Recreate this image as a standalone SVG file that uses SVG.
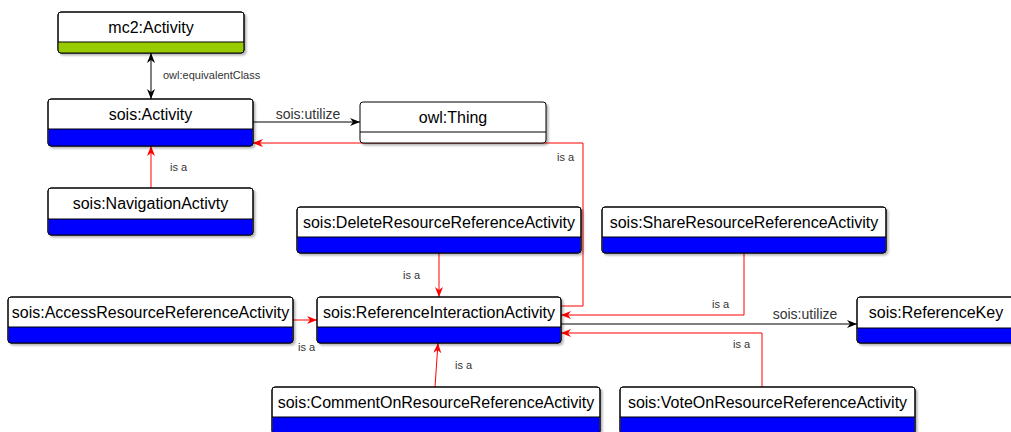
<svg xmlns="http://www.w3.org/2000/svg" width="1011" height="432" viewBox="0 0 1011 432">
<style>
.box{fill:#fff;stroke:#000;stroke-width:1}
.hdr{fill:#fff;stroke:none}
.blue{fill:#0000ff}
.green{fill:#99cc00}
.div{stroke:#000;stroke-width:1}
.nt{font-family:"Liberation Sans",Arial,sans-serif;font-size:16px;fill:#000;text-anchor:middle}
.el{font-family:"Liberation Sans",Arial,sans-serif;font-size:11px;fill:#333}
.el14{font-family:"Liberation Sans",Arial,sans-serif;font-size:14px;fill:#333}
.blk{fill:none;stroke:#000;stroke-width:1}
.red{fill:none;stroke:#ff0000;stroke-width:1}
</style>
<defs>
<filter id="sh" x="-5%" y="-10%" width="115%" height="130%">
<feDropShadow dx="2" dy="2" stdDeviation="1.2" flood-color="#000" flood-opacity="0.3"/>
</filter>
<marker id="ab" markerUnits="userSpaceOnUse" markerWidth="12" markerHeight="10" refX="10" refY="4" orient="auto-start-reverse" viewBox="0 0 12 10">
<path d="M0,0 L10,4 L0,8 L3,4 Z" fill="#000"/>
</marker>
<marker id="ar" markerUnits="userSpaceOnUse" markerWidth="12" markerHeight="10" refX="10" refY="4" orient="auto" viewBox="0 0 12 10">
<path d="M0,0 L10,4 L0,8 L3,4 Z" fill="#ff0000"/>
</marker>
</defs>

<g id="connectors">
<path class="blk" d="M151,53 V99" marker-start="url(#ab)" marker-end="url(#ab)"/>
<path class="blk" d="M253,122 H360" marker-end="url(#ab)"/>
<path class="red" d="M561,306 H583 V143 H253" marker-end="url(#ar)"/>
<path class="red" d="M151,188 V146" marker-end="url(#ar)"/>
<path class="red" d="M439,253 V297" marker-end="url(#ar)"/>
<path class="red" d="M293,320 H317" marker-end="url(#ar)"/>
<path class="red" d="M435,387 L438,343" marker-end="url(#ar)"/>
<path class="red" d="M744,253 V315 H561" marker-end="url(#ar)"/>
<path class="blk" d="M561,324 H857" marker-end="url(#ab)"/>
<path class="red" d="M762,387 V333 H561" marker-end="url(#ar)"/>
<text class="el" x="163" y="79">owl:equivalentClass</text>
<text class="el14" x="308" y="119" text-anchor="middle">sois:utilize</text>
<text class="el" x="557" y="161">is a</text>
<text class="el" x="170" y="171">is a</text>
<text class="el" x="403" y="279">is a</text>
<text class="el" x="298" y="351">is a</text>
<text class="el" x="455" y="369">is a</text>
<text class="el" x="712" y="308">is a</text>
<text class="el" x="733" y="348">is a</text>
<text class="el14" x="805" y="319" text-anchor="middle">sois:utilize</text>
</g>

<g id="mc2-activity">
<rect class="box" x="58" y="12" width="186" height="41" rx="3" filter="url(#sh)"/>
<path class="green" d="M58.5,42 H243.5 V50 a3,3 0 0 1 -3,3 H61.5 a3,3 0 0 1 -3,-3 Z"/>
<line class="div" x1="58" y1="42" x2="244" y2="42"/>
<rect x="58" y="12" width="186" height="41" rx="3" fill="none" stroke="#000"/>
<text class="nt" x="151" y="33">mc2:Activity</text>
</g>

<g id="sois-activity">
<rect class="box" x="48" y="99" width="205" height="47" rx="3" filter="url(#sh)"/>
<path class="blue" d="M48.5,129 H252.5 V143 a3,3 0 0 1 -3,3 H51.5 a3,3 0 0 1 -3,-3 Z"/>
<line class="div" x1="48" y1="129" x2="253" y2="129"/>
<rect x="48" y="99" width="205" height="47" rx="3" fill="none" stroke="#000"/>
<text class="nt" x="150.5" y="120">sois:Activity</text>
</g>

<g id="owl-thing">
<rect class="box" x="360" y="102" width="186" height="41" rx="3" filter="url(#sh)"/>
<line class="div" x1="360" y1="132" x2="546" y2="132"/>
<text class="nt" x="453" y="123">owl:Thing</text>
</g>

<g id="sois-navigation">
<rect class="box" x="48" y="188" width="205" height="47" rx="3" filter="url(#sh)"/>
<path class="blue" d="M48.5,219 H252.5 V232 a3,3 0 0 1 -3,3 H51.5 a3,3 0 0 1 -3,-3 Z"/>
<line class="div" x1="48" y1="219" x2="253" y2="219"/>
<rect x="48" y="188" width="205" height="47" rx="3" fill="none" stroke="#000"/>
<text class="nt" x="150.5" y="209">sois:NavigationActivty</text>
</g>

<g id="sois-delete">
<rect class="box" x="297" y="207" width="284" height="46" rx="3" filter="url(#sh)"/>
<path class="blue" d="M297.5,237 H580.5 V250 a3,3 0 0 1 -3,3 H300.5 a3,3 0 0 1 -3,-3 Z"/>
<line class="div" x1="297" y1="237" x2="581" y2="237"/>
<rect x="297" y="207" width="284" height="46" rx="3" fill="none" stroke="#000"/>
<text class="nt" x="439" y="228">sois:DeleteResourceReferenceActivity</text>
</g>

<g id="sois-share">
<rect class="box" x="602" y="207" width="284" height="46" rx="3" filter="url(#sh)"/>
<path class="blue" d="M602.5,237 H885.5 V250 a3,3 0 0 1 -3,3 H605.5 a3,3 0 0 1 -3,-3 Z"/>
<line class="div" x1="602" y1="237" x2="886" y2="237"/>
<rect x="602" y="207" width="284" height="46" rx="3" fill="none" stroke="#000"/>
<text class="nt" x="744" y="228">sois:ShareResourceReferenceActivity</text>
</g>

<g id="sois-access">
<rect class="box" x="8" y="297" width="285" height="46" rx="3" filter="url(#sh)"/>
<path class="blue" d="M8.5,327 H292.5 V340 a3,3 0 0 1 -3,3 H11.5 a3,3 0 0 1 -3,-3 Z"/>
<line class="div" x1="8" y1="327" x2="293" y2="327"/>
<rect x="8" y="297" width="285" height="46" rx="3" fill="none" stroke="#000"/>
<text class="nt" x="150.5" y="318">sois:AccessResourceReferenceActivity</text>
</g>

<g id="sois-referenceinteraction">
<rect class="box" x="317" y="297" width="244" height="46" rx="3" filter="url(#sh)"/>
<path class="blue" d="M317.5,327 H560.5 V340 a3,3 0 0 1 -3,3 H320.5 a3,3 0 0 1 -3,-3 Z"/>
<line class="div" x1="317" y1="327" x2="561" y2="327"/>
<rect x="317" y="297" width="244" height="46" rx="3" fill="none" stroke="#000"/>
<text class="nt" x="439" y="318">sois:ReferenceInteractionActivity</text>
</g>

<g id="sois-referencekey">
<rect class="box" x="857" y="297" width="158" height="46" rx="3" filter="url(#sh)"/>
<path class="blue" d="M857.5,328 H1014.5 V340 a3,3 0 0 1 -3,3 H860.5 a3,3 0 0 1 -3,-3 Z"/>
<line class="div" x1="857" y1="328" x2="1015" y2="328"/>
<rect x="857" y="297" width="158" height="46" rx="3" fill="none" stroke="#000"/>
<text class="nt" x="936" y="318">sois:ReferenceKey</text>
</g>

<g id="sois-comment">
<rect class="box" x="272" y="387" width="328" height="47" rx="3" filter="url(#sh)"/>
<path class="blue" d="M272.5,417 H599.5 V434 H272.5 Z"/>
<line class="div" x1="272" y1="417" x2="600" y2="417"/>
<rect x="272" y="387" width="328" height="47" rx="3" fill="none" stroke="#000"/>
<text class="nt" x="436" y="408">sois:CommentOnResourceReferenceActivity</text>
</g>

<g id="sois-vote">
<rect class="box" x="620" y="387" width="295" height="47" rx="3" filter="url(#sh)"/>
<path class="blue" d="M620.5,417 H914.5 V434 H620.5 Z"/>
<line class="div" x1="620" y1="417" x2="915" y2="417"/>
<rect x="620" y="387" width="295" height="47" rx="3" fill="none" stroke="#000"/>
<text class="nt" x="767.5" y="408">sois:VoteOnResourceReferenceActivity</text>
</g>
</svg>
